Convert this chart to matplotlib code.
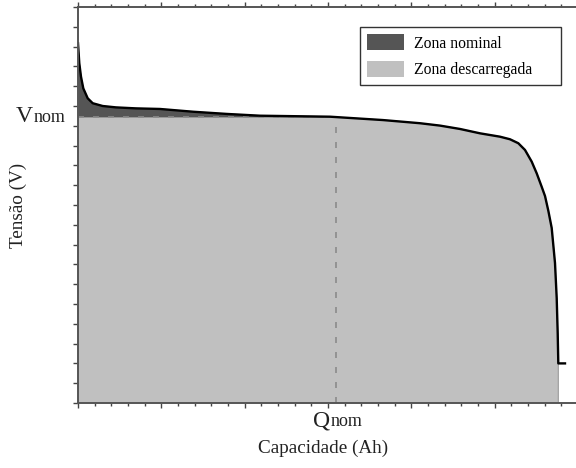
import matplotlib.pyplot as plt
from matplotlib.patches import Patch
import numpy as np

# discharge curve (capacity units, voltage units)
cap = [0.0, 0.0156, 0.036, 0.0636, 0.1164, 0.1764, 0.2964, 0.456, 0.696,
       0.984, 1.3836, 1.7844, 2.184, 3.024, 3.66, 4.104, 4.344, 4.584, 4.824,
       5.064, 5.184, 5.2836, 5.364, 5.4444, 5.5044, 5.5644, 5.6044, 5.6444,
       5.6844, 5.724, 5.7444, 5.7564, 5.7636, 5.844]
volt = [18.17, 17.16, 16.48, 15.89, 15.39, 15.14, 15.0, 14.93, 14.88,
        14.85, 14.71, 14.60, 14.51, 14.46, 14.29, 14.13, 14.01, 13.84, 13.62,
        13.45, 13.32, 13.12, 12.78, 12.19, 11.60, 10.92, 10.45, 9.70,
        8.84, 7.07, 5.30, 3.52, 2.0, 2.0]
v_nom = 14.45
q_nom = 3.1
legend_labels = ['Zona nominal', 'Zona descarregada']

dark = '#555555'
light = '#c0c0c0'
dash_col = '#8a8a8a'
serif = ['Liberation Serif', 'DejaVu Serif']

x = np.array(cap)
y = np.array(volt)

fig = plt.figure(figsize=(5.76, 4.68), dpi=100)
ax = fig.add_axes([78/576, 65/468, 500/576, 396/468])

# light zone under the whole curve (without the little end hook)
ax.fill(np.r_[x[:-1], x[-2], 0], np.r_[y[:-1], 0, 0], color=light,
        edgecolor='#9a9a9a', lw=0.8, zorder=1)
# dark zone above Vnom up to Qnom
xf = np.linspace(0, q_nom, 400)
yf = np.interp(xf, x, y)
ax.fill_between(xf, yf, v_nom, where=yf >= v_nom, interpolate=True,
                color=dark, lw=0, zorder=2)

ax.plot([0, q_nom], [v_nom, v_nom], color=dash_col, lw=1.2,
        linestyle=(0, (3.6, 5.4)), zorder=3)
ax.plot([q_nom, q_nom], [0, v_nom], color=dash_col, lw=1.2,
        linestyle=(0, (3.6, 5.4)), zorder=3)
ax.plot(x, y, color='black', lw=1.7, zorder=4, solid_joinstyle='round')

ax.set_xlim(0, 6)
ax.set_ylim(0, 20)
ax.set_xticks(np.arange(0, 7, 1))
ax.set_xticks(np.arange(0, 6.01, 0.2), minor=True)
ax.set_yticks(np.arange(0, 21, 1))
ax.set_xticklabels([])
ax.set_yticklabels([])
ax.tick_params(axis='x', which='both', top=True, bottom=True, direction='out',
               color='#444444')
ax.tick_params(axis='x', which='major', length=3.8, width=1)
ax.tick_params(axis='x', which='minor', length=2.2, width=1)
ax.tick_params(axis='y', which='major', length=3.4, width=1, color='#444444')
ax.spines['right'].set_visible(False)
for s in ['left', 'top', 'bottom']:
    ax.spines[s].set_color('#555555')
    ax.spines[s].set_linewidth(1.4)
    ax.spines[s].set_zorder(5)

ax.set_ylabel('Tensão (V)', family=serif, fontsize=13.8, color='#222222')
ax.yaxis.set_label_coords(-0.102, 0.5)
ax.set_xlabel('Capacidade (Ah)', family=serif, fontsize=13.8, color='#222222')
ax.xaxis.set_label_coords(0.49, -0.093)

# Vnom and Qnom markers
ax.annotate('V', xy=(0, v_nom), xycoords=('axes fraction', 'data'),
            xytext=(-45, -5), textcoords='offset pixels', ha='right',
            va='baseline', family=serif, fontsize=17, color='#222222')
ax.annotate('nom', xy=(0, v_nom), xycoords=('axes fraction', 'data'),
            xytext=(-44, -5), textcoords='offset pixels', ha='left',
            va='baseline', family=serif, fontsize=13, color='#222222')
ax.annotate('Q', xy=(q_nom, 0), xycoords=('data', 'axes fraction'),
            xytext=(-6, -23), textcoords='offset pixels', ha='right',
            va='baseline', family=serif, fontsize=17, color='#222222')
ax.annotate('nom', xy=(q_nom, 0), xycoords=('data', 'axes fraction'),
            xytext=(-6, -23), textcoords='offset pixels', ha='left',
            va='baseline', family=serif, fontsize=13, color='#222222')

handles = [Patch(facecolor=dark, edgecolor='none'),
           Patch(facecolor=light, edgecolor='none')]
leg = ax.legend(handles, legend_labels, loc='upper left',
                bbox_to_anchor=(0.564, 0.7975, 0.402, 0.1515), mode='expand',
                borderaxespad=0,
                prop={'family': serif, 'size': 11.3}, fancybox=False,
                framealpha=1, edgecolor='#333333', handlelength=2.36,
                handleheight=1.2, handletextpad=0.64, labelspacing=0.57,
                borderpad=0.45)
leg.get_frame().set_linewidth(1.0)
leg.set_zorder(6)

fig.savefig('out.png', dpi=100)
